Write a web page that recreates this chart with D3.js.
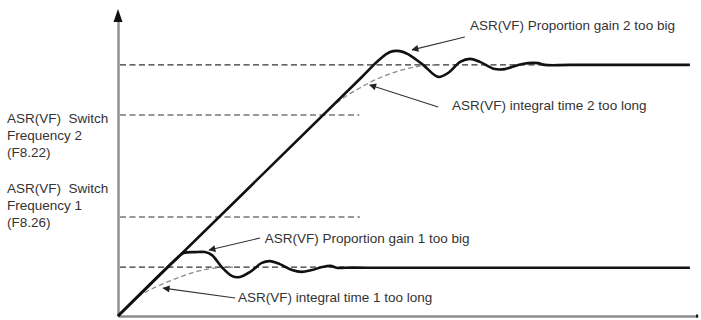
<!DOCTYPE html>
<html>
<head>
<meta charset="utf-8">
<script src="https://cdn.jsdelivr.net/npm/d3@7"></script>
<style>
  html, body { margin: 0; padding: 0; background: #fff; }
  svg { display: block; }
  text { font-family: "Liberation Sans", Arial, sans-serif; font-size: 13.5px; fill: #333; white-space: pre; }
</style>
</head>
<body>
<svg id="chart" width="701" height="320"></svg>
<script>
// ---- data (time 0..100, speed 0..100) ----
const speedLevels = [83.7, 67, 33, 16.3];           // final speed 2, switch freq 2, switch freq 1, final speed 1
const levelEnds   = [75, 41.6, 41.7, 39];           // x extent of the dashed reference lines

// speed response with proportional gain 2 too big (includes the ramp from origin)
const responseGain2 = [
  [0,0],[42,79.6],[44.8,85],[46.9,88],[48.6,88.3],[50,87.3],[52.6,83.7],[55.2,79.7],
  [56.9,81],[59,84.7],[60.7,85.7],[62.4,84.7],[65,82.3],[66.7,82.3],[69,83.7],
  [70.7,84.3],[72.4,84.3],[73.6,83.7],[78,83.7],[98.6,83.7]
];
// speed response with proportional gain 1 too big
const responseGain1 = [
  [0,0],[10.3,19.5],[11.3,21],[13.3,21.3],[15,21.3],[16.2,20.3],[17.9,16.3],[19.7,13.3],
  [21,13],[22.8,14.7],[24.8,17.7],[26.2,18.3],[27.9,17.3],[30,15.3],[31.7,14.7],
  [33.4,15.3],[35.2,16.3],[36.6,16.7],[37.9,16],[39.1,16.1],[43,16.1],[98.6,16.1]
];
// speed response with integral time too long
const integral1 = [[3.4,6.4],[5.5,8.7],[8.1,11],[10.7,13],[13.3,14.7],[15.9,15.8],[18.4,16.2],[20,16.3]];
const integral2 = [[36.6,69.3],[39.1,73],[41.7,76],[44.3,78.7],[46.9,80.7],[49.5,82.3],[52.1,83.3],[54.7,83.7]];

// annotation labels: text, text anchor point, arrow tail, arrow head
const noteTexts = [
  "ASR(VF) Proportion gain 2 too big",
  "ASR(VF) integral time 2 too long",
  "ASR(VF) Proportion gain 1 too big",
  "ASR(VF) integral time 1 too long"
];
const noteAt    = [[60.7,95.3],[57.6,68.7],[25.3,24.3],[20.7,4.7]];
const arrowTail = [[59.8,93],[55.2,69.7],[24.5,26],[20.2,6]];
const arrowHead = [[50.7,88.7],[43.4,77],[15.7,22],[7.8,9.3]];

// left-side labels
const switchLabel2 = ["ASR(VF)  Switch", "Frequency 2", "(F8.22)"];
const switchLabel1 = ["ASR(VF)  Switch", "Frequency 1", "(F8.26)"];

// ---- drawing ----
const svg = d3.select("#chart");
const x = d3.scaleLinear().domain([0, 100]).range([118, 698]);
const y = d3.scaleLinear().domain([0, 100]).range([316, 16]);

svg.append("defs").append("marker")
  .attr("id", "ah").attr("viewBox", "0 0 10 10").attr("refX", 9).attr("refY", 5)
  .attr("markerWidth", 9).attr("markerHeight", 7).attr("markerUnits", "userSpaceOnUse")
  .attr("orient", "auto")
  .append("path").attr("d", "M0,0 L10,5 L0,10 Z").attr("fill", "#222");

// axes
svg.append("g").attr("transform", `translate(0,${y(0)})`)
  .call(d3.axisBottom(x).ticks(0).tickSize(0).tickFormat(""));
svg.append("g").attr("transform", `translate(${x(0)},0)`)
  .call(d3.axisLeft(y).ticks(0).tickSize(0).tickFormat(""));
svg.selectAll(".domain").attr("stroke", "#8c8c8c").attr("stroke-width", 2.4);
// y axis arrow
svg.append("path")
  .attr("d", `M${x(0)},9 L${x(0)-4.5},22 L${x(0)+4.5},22 Z`)
  .attr("fill", "#111");
svg.append("line").attr("x1", x(100)-1).attr("x2", x(100)-1)
  .attr("y1", y(0)-1.5).attr("y2", y(0)+1.5).attr("stroke", "#111").attr("stroke-width", 2);

// dashed reference levels
svg.append("g").selectAll("line").data(speedLevels).join("line")
  .attr("x1", x(0) + 2).attr("x2", (d, i) => x(levelEnds[i]))
  .attr("y1", d => y(d)).attr("y2", d => y(d))
  .attr("stroke", "#333").attr("stroke-width", 1.2).attr("stroke-dasharray", "6,3.5");

const line = d3.line().x(d => x(d[0])).y(d => y(d[1])).curve(d3.curveCatmullRom.alpha(0.5));

// integral-too-long curves (light dashed)
svg.append("g").selectAll("path").data([integral1, integral2]).join("path")
  .attr("d", line).attr("fill", "none")
  .attr("stroke", "#8a8a8a").attr("stroke-width", 1.3).attr("stroke-dasharray", "5,3");

// solid responses
svg.append("g").selectAll("path").data([responseGain1, responseGain2]).join("path")
  .attr("d", line).attr("fill", "none")
  .attr("stroke", "#111").attr("stroke-width", 2.6).attr("stroke-linejoin", "round");

// arrows
svg.append("g").selectAll("line").data(arrowTail).join("line")
  .attr("x1", d => x(d[0])).attr("y1", d => y(d[1]))
  .attr("x2", (d, i) => x(arrowHead[i][0])).attr("y2", (d, i) => y(arrowHead[i][1]))
  .attr("stroke", "#333").attr("stroke-width", 1.1).attr("marker-end", "url(#ah)");

// annotation texts
svg.append("g").selectAll("text").data(noteTexts).join("text")
  .attr("x", (d, i) => x(noteAt[i][0])).attr("y", (d, i) => y(noteAt[i][1]))
  .text(d => d);

// left labels
const lh = 17;
svg.append("g").selectAll("text").data(switchLabel2).join("text")
  .attr("x", 7).attr("y", (d, i) => y(speedLevels[1]) + 8 + i * lh).text(d => d);
svg.append("g").selectAll("text").data(switchLabel1).join("text")
  .attr("x", 7).attr("y", (d, i) => y(speedLevels[2]) + 10 - (2 - i) * lh).text(d => d);
</script>
</body>
</html>
